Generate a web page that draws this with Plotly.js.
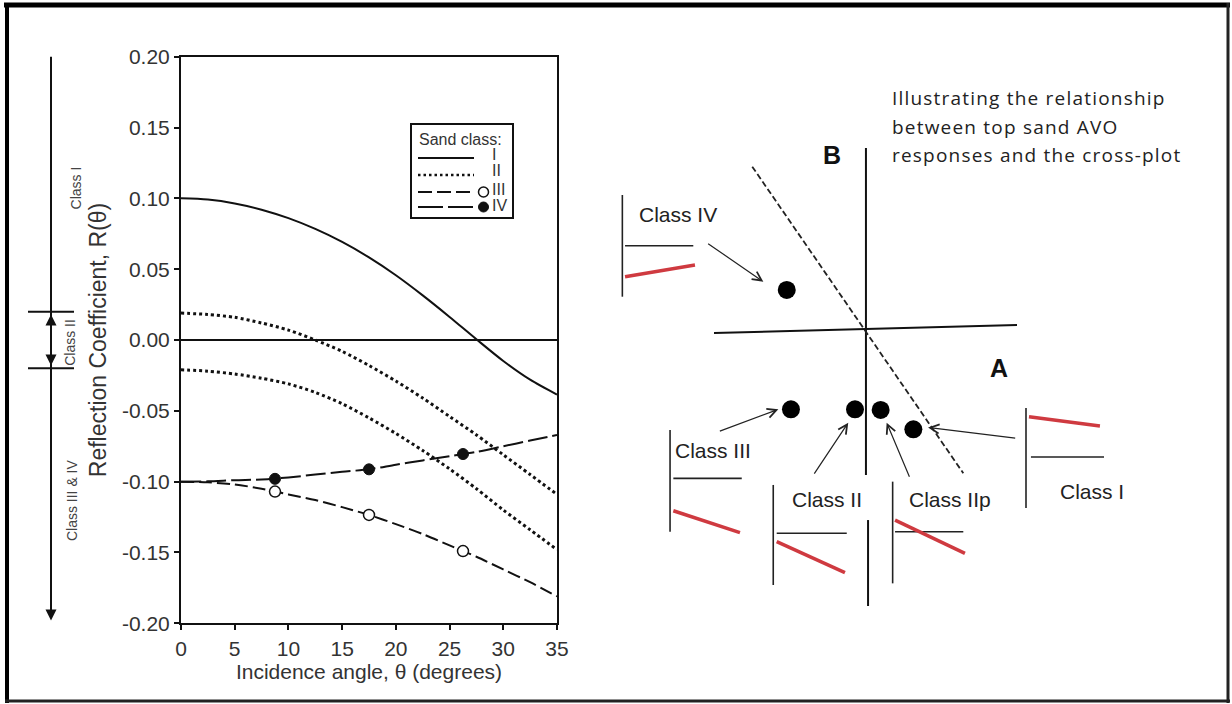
<!DOCTYPE html>
<html>
<head>
<meta charset="utf-8">
<script src="https://cdn.plot.ly/plotly-3.0.1.min.js"></script>
<style>
  html, body { margin: 0; padding: 0; background: #ffffff; }
  #chart { width: 1232px; height: 704px; }
</style>
</head>
<body>
<div id="chart"></div>
<script>
// ---- AVO curves: reflection coefficient vs incidence angle ----
const angles = [0, 2.5, 5, 7.5, 10, 12.5, 15, 17.5, 20, 22.5, 25, 27.5, 30, 32.5, 35];
const classI = [0.100, 0.0991, 0.0964, 0.092, 0.086, 0.0784, 0.0692, 0.0583, 0.0457, 0.0315, 0.0163, 0.0005, -0.0148, -0.028, -0.0385];
const classIIUpper = [0.019, 0.018, 0.016, 0.012, 0.007, 0.000, -0.008, -0.018, -0.029, -0.041, -0.054, -0.067, -0.081, -0.095, -0.109];
const classIILower = [-0.021, -0.022, -0.024, -0.027, -0.031, -0.037, -0.045, -0.055, -0.066, -0.078, -0.091, -0.105, -0.120, -0.134, -0.148];
const classIII = [-0.100, -0.1005, -0.102, -0.105, -0.109, -0.113, -0.118, -0.1235, -0.130, -0.137, -0.145, -0.153, -0.162, -0.171, -0.181];
const classIV = [-0.100, -0.0998, -0.099, -0.0985, -0.097, -0.095, -0.093, -0.0913, -0.088, -0.085, -0.082, -0.079, -0.075, -0.071, -0.067];
const markerAngles = [8.75, 17.5, 26.25];
const classIIIMarkers = [-0.107, -0.1235, -0.149];
const classIVMarkers = [-0.098, -0.0913, -0.0805];

const xTickVals = [0, 5, 10, 15, 20, 25, 30, 35];
const xTickText = ['0', '5', '10', '15', '20', '25', '30', '35'];
const yTickVals = [0.20, 0.15, 0.10, 0.05, 0.00, -0.05, -0.10, -0.15, -0.20];
const yTickText = ['0.20', '0.15', '0.10', '0.05', '0.00', '-0.05', '-0.10', '-0.15', '-0.20'];

// Intercept ranges for the sand classes (bracket on the far left)
const classIIBounds = [0.02, -0.02];
const bracketTop = 0.212;
const bracketBottom = -0.198;
const rangeLabels = ['Class I', 'Class II', 'Class III & IV'];
const rangeLabelR = [0.107, -0.002, -0.113];

// ---- Intercept (A) / gradient (B) cross-plot ----
const crossClasses = ['Class IV', 'Class III', 'Class II', 'Class IIp', 'Class I'];
const crossA = [-0.535, -0.507, -0.08, 0.091, 0.309];
const crossB = [0.267, -0.529, -0.529, -0.533, -0.662];
const axisA = [-1.02, 1.0];
const axisAB = [-0.02, 0.033];
const axisBX = [-0.007, -0.007, null, 0.007, 0.007];
const axisBY = [1.213, -0.967, null, -1.267, -1.84];
const trendA = [-0.765, 0.642];
const trendB = [1.089, -0.955];

// small response sketches next to each class
const sketchAxisX = [-1.631, -1.313, -0.625, 0.171, 1.06];
const sketchAxisTop = [0.9, -0.667, -1.033, -1.011, -0.52];
const sketchAxisBot = [0.222, -1.345, -1.7, -1.689, -1.187];
const baseX0 = [-1.613, -1.291, -0.602, 0.187, 1.093];
const baseX1 = [-1.158, -0.835, -0.135, 0.642, 1.58];
const baseY = [0.562, -0.989, -1.355, -1.345, -0.847];
const respX0 = [-1.613, -1.291, -0.602, 0.187, 1.08];
const respY0 = [0.355, -1.205, -1.411, -1.267, -0.578];
const respX1 = [-1.147, -0.847, -0.147, 0.653, 1.553];
const respY1 = [0.433, -1.351, -1.618, -1.489, -0.64];
const labelX = [-1.258, -1.027, -0.269, 0.553, 1.5];
const labelY = [0.767, -0.8, -1.133, -1.133, -1.078];
const tailA = [-1.069, -0.991, -0.358, 0.287, 0.998];
const tailB = [0.582, -0.678, -0.967, -0.989, -0.722];
const headA = [-0.691, -0.591, -0.125, 0.131, 0.407];
const headB = [0.322, -0.529, -0.618, -0.618, -0.65];

const noteLines = ['Illustrating the relationship', 'between top sand AVO', 'responses and the cross-plot'];
const noteA = 0.153;
const noteB = [1.547, 1.355, 1.167];

// ---- helpers ----
const W = 1232, H = 704;
const px = x => x / W;
const py = y => 1 - y / H;
const ARIAL = 'Liberation Sans, Arial, sans-serif';

function joinSegments(xs0, ys0, xs1, ys1) {
  const x = [], y = [];
  for (let i = 0; i < xs0.length; i++) {
    x.push(xs0[i], xs1[i], null);
    y.push(ys0[i], ys1[i], null);
  }
  return { x, y };
}

const traces = [];
const curve = (y, dash, width) => ({
  x: angles, y: y, type: 'scatter', mode: 'lines',
  line: { color: '#111', width: width, dash: dash, shape: 'spline', smoothing: 0.8 },
  hoverinfo: 'skip', showlegend: false, xaxis: 'x', yaxis: 'y'
});
traces.push(curve(classI, 'solid', 2));
traces.push(curve(classIIUpper, '3px,3px', 3));
traces.push(curve(classIILower, '3px,3px', 3));
traces.push(curve(classIII, '13px,5px', 2));
traces.push(curve(classIV, '20px,5px', 2));
traces.push({
  x: markerAngles, y: classIIIMarkers, type: 'scatter', mode: 'markers',
  marker: { size: 11, color: '#ffffff', line: { color: '#111', width: 1.5 } },
  hoverinfo: 'skip', showlegend: false
});
traces.push({
  x: markerAngles, y: classIVMarkers, type: 'scatter', mode: 'markers',
  marker: { size: 11, color: '#111', line: { color: '#111', width: 1 } },
  hoverinfo: 'skip', showlegend: false
});

// cross-plot traces
const xy2 = { xaxis: 'x2', yaxis: 'y2', hoverinfo: 'skip', showlegend: false, type: 'scatter' };
traces.push(Object.assign({ x: axisA, y: axisAB, mode: 'lines', line: { color: '#111', width: 2 } }, xy2));
traces.push(Object.assign({ x: axisBX, y: axisBY, mode: 'lines', line: { color: '#111', width: 2 } }, xy2));
traces.push(Object.assign({ x: trendA, y: trendB, mode: 'lines', line: { color: '#222', width: 1.8, dash: '6px,3px' } }, xy2));
const vert = joinSegments(sketchAxisX, sketchAxisTop, sketchAxisX, sketchAxisBot);
traces.push(Object.assign({ x: vert.x, y: vert.y, mode: 'lines', line: { color: '#222', width: 1.6 } }, xy2));
const base = joinSegments(baseX0, baseY, baseX1, baseY);
traces.push(Object.assign({ x: base.x, y: base.y, mode: 'lines', line: { color: '#222', width: 1.6 } }, xy2));
const resp = joinSegments(respX0, respY0, respX1, respY1);
traces.push(Object.assign({ x: resp.x, y: resp.y, mode: 'lines', line: { color: '#cf3a40', width: 3.5 } }, xy2));
traces.push(Object.assign({ x: crossA, y: crossB, mode: 'markers', marker: { size: 18, color: '#000' } }, xy2));

// ---- annotations ----
const annotations = [];
// class labels and arrows in the cross-plot
crossClasses.forEach((name, i) => {
  annotations.push({
    xref: 'x2', yref: 'y2', x: labelX[i], y: labelY[i], text: name, showarrow: false,
    xanchor: 'center', yanchor: 'middle',
    font: { family: ARIAL, size: 21, color: '#222' }
  });
  annotations.push({
    xref: 'x2', yref: 'y2', axref: 'x2', ayref: 'y2',
    x: headA[i], y: headB[i], ax: tailA[i], ay: tailB[i], text: '',
    showarrow: true, arrowhead: 5, arrowsize: 1.5, arrowwidth: 1.2, arrowcolor: '#222', standoff: 0
  });
});
annotations.push({ xref: 'x2', yref: 'y2', x: -0.233, y: 1.167, text: '<b>B</b>', showarrow: false,
  xanchor: 'center', yanchor: 'middle', font: { family: ARIAL, size: 25, color: '#111' } });
annotations.push({ xref: 'x2', yref: 'y2', x: 0.88, y: -0.253, text: '<b>A</b>', showarrow: false,
  xanchor: 'center', yanchor: 'middle', font: { family: ARIAL, size: 25, color: '#111' } });
noteLines.forEach((t, i) => annotations.push({
  xref: 'x2', yref: 'y2', x: noteA, y: noteB[i],
  text: '<span style="letter-spacing:1.2px">' + t + '</span>', showarrow: false,
  xanchor: 'left', yanchor: 'middle', font: { family: 'Open Sans, Lato, sans-serif', size: 19, color: '#222' }
}));

// legend of the reflection-coefficient chart
const legendLabels = ['I', 'II', 'III', 'IV'];
const legendLabelY = [154, 170, 189, 205];
annotations.push({ xref: 'paper', yref: 'paper', x: px(417), y: py(139), xanchor: 'left', yanchor: 'middle',
  text: 'Sand class:', showarrow: false, font: { family: ARIAL, size: 16, color: '#333' } });
legendLabels.forEach((t, i) => annotations.push({
  xref: 'paper', yref: 'paper', x: px(490), y: py(legendLabelY[i]), xanchor: 'left', yanchor: 'middle', text: t,
  showarrow: false, font: { family: ARIAL, size: 16, color: '#333' }
}));

// class ranges bracket
const bx = px(51);
const bracketArrow = (y, ay) => ({ xref: 'paper', yref: 'y', x: bx, y: y, ax: 0, ay: ay, text: '', showarrow: true,
  arrowhead: 2, arrowsize: 1.1, arrowwidth: 2, arrowcolor: '#111' });
annotations.push(bracketArrow(bracketTop, 16));
annotations.push(bracketArrow(bracketBottom, -16));
annotations.push(bracketArrow(classIIBounds[0] - 0.002, 16));
annotations.push(bracketArrow(classIIBounds[1] + 0.002, -16));
const rangeLabelX = [76, 70, 72];
rangeLabels.forEach((t, i) => annotations.push({
  xref: 'paper', yref: 'y', x: px(rangeLabelX[i]), y: rangeLabelR[i], text: t, textangle: -90,
  xanchor: 'center', yanchor: 'middle',
  showarrow: false, font: { family: ARIAL, size: 14, color: '#444' }
}));

// ---- shapes ----
const shapes = [
  // outer frame
  { type: 'line', xref: 'paper', yref: 'paper', x0: px(4), x1: px(1230), y0: py(5), y1: py(5), line: { color: '#000', width: 5 } },
  { type: 'line', xref: 'paper', yref: 'paper', x0: px(7), x1: px(7), y0: py(3), y1: py(703), line: { color: '#000', width: 4 } },
  { type: 'line', xref: 'paper', yref: 'paper', x0: px(1228), x1: px(1228), y0: py(3), y1: py(703), line: { color: '#222', width: 3 } },
  { type: 'line', xref: 'paper', yref: 'paper', x0: px(5), x1: px(1230), y0: py(701), y1: py(701), line: { color: '#222', width: 3 } },
  // legend box and samples
  { type: 'rect', xref: 'paper', yref: 'paper', x0: px(411), x1: px(513), y0: py(124), y1: py(218), line: { color: '#111', width: 2 }, fillcolor: 'rgba(255,255,255,0)' },
  { type: 'line', xref: 'paper', yref: 'paper', x0: px(418), x1: px(474), y0: py(158), y1: py(158), line: { color: '#111', width: 2 } },
  { type: 'line', xref: 'paper', yref: 'paper', x0: px(418), x1: px(474), y0: py(175), y1: py(175), line: { color: '#111', width: 2.5, dash: '2.5px,3px' } },
  { type: 'line', xref: 'paper', yref: 'paper', x0: px(418), x1: px(474), y0: py(192), y1: py(192), line: { color: '#111', width: 2, dash: '14px,5px' } },
  { type: 'line', xref: 'paper', yref: 'paper', x0: px(418), x1: px(474), y0: py(207), y1: py(207), line: { color: '#111', width: 2, dash: '25px,5px' } },
  { type: 'circle', xref: 'paper', yref: 'paper', x0: px(478.5), x1: px(488.5), y0: py(187), y1: py(197), line: { color: '#111', width: 1.5 }, fillcolor: '#fff' },
  { type: 'circle', xref: 'paper', yref: 'paper', x0: px(478.5), x1: px(488.5), y0: py(202), y1: py(212), line: { color: '#111', width: 1 }, fillcolor: '#111' },
  // class range bracket
  { type: 'line', xref: 'paper', yref: 'y', x0: bx, x1: bx, y0: bracketTop - 0.01, y1: bracketBottom + 0.01, line: { color: '#111', width: 2 } },
  { type: 'line', xref: 'paper', yref: 'y', x0: px(28), x1: px(74), y0: classIIBounds[0], y1: classIIBounds[0], line: { color: '#111', width: 2 } },
  { type: 'line', xref: 'paper', yref: 'y', x0: px(28), x1: px(74), y0: classIIBounds[1], y1: classIIBounds[1], line: { color: '#111', width: 2 } }
];

const tickFont = { family: ARIAL, size: 21, color: '#333' };
const layout = {
  width: W, height: H,
  margin: { l: 0, r: 0, t: 0, b: 0 },
  paper_bgcolor: '#ffffff', plot_bgcolor: 'rgba(0,0,0,0)',
  showlegend: false,
  xaxis: {
    domain: [px(181), px(557)], range: [0, 35],
    tickvals: xTickVals, ticktext: xTickText, ticks: 'outside', ticklen: 5, tickwidth: 2, tickcolor: '#111',
    showline: true, mirror: true, linecolor: '#111', linewidth: 2, showgrid: false, zeroline: false,
    tickfont: tickFont,
    title: { text: 'Incidence angle, θ (degrees)', font: { family: ARIAL, size: 21, color: '#333' }, standoff: 6 },
    fixedrange: true
  },
  yaxis: {
    domain: [py(623.3), py(56.7)], range: [-0.2, 0.2],
    tickvals: yTickVals, ticktext: yTickText, ticks: 'outside', ticklen: 5, tickwidth: 2, tickcolor: '#111',
    showline: true, mirror: true, linecolor: '#111', linewidth: 2, showgrid: false,
    zeroline: true, zerolinecolor: '#111', zerolinewidth: 2,
    tickfont: tickFont,
    title: { text: 'Reflection Coefficient, R(θ)', font: { family: ARIAL, size: 23, color: '#333' }, standoff: 9 },
    fixedrange: true
  },
  xaxis2: { domain: [px(567), px(1227)], range: [-2, 2.4], visible: false, anchor: 'y2', fixedrange: true },
  yaxis2: { domain: [py(630), py(75)], range: [-2, 1.7], visible: false, anchor: 'x2', fixedrange: true },
  annotations: annotations,
  shapes: shapes
};

Plotly.newPlot('chart', traces, layout, { staticPlot: true, displayModeBar: false });
</script>
</body>
</html>
